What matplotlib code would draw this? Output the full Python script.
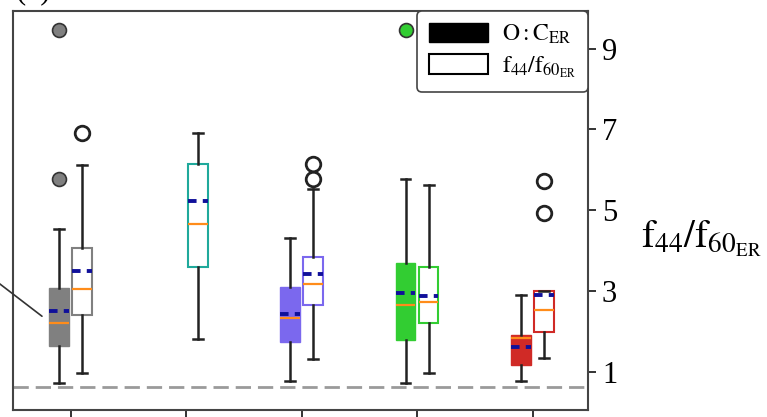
import matplotlib
matplotlib.use('Agg')
import matplotlib.pyplot as plt
from matplotlib.patches import Patch

plt.rcParams['font.family'] = ['Liberation Serif', 'DejaVu Serif']
plt.rcParams['mathtext.fontset'] = 'stix'

# ----------------------------------------------------------------------
# DATA (in f44/f60_ER axis units)
# ----------------------------------------------------------------------
groups = [1, 2, 3, 4, 5]
colors = ['#808080', '#1fa99b', '#7b68ee', '#32cd32', '#d02a26']

# O:C_ER filled boxes (no box for group 2)
oc_groups = [1, 3, 4, 5]
oc_q1 = [1.64, 1.74, 1.79, 1.17]
oc_med = [2.20, 2.33, 2.65, 1.83]
oc_q3 = [3.06, 3.09, 3.68, 1.91]
oc_mean = [2.50, 2.42, 2.94, 1.61]
oc_lo = [0.73, 0.78, 0.71, 0.76]
oc_hi = [4.54, 4.30, 5.77, 2.89]
oc_fliers = [[5.77, 9.45], [], [9.45], []]

# f44/f60_ER open boxes
ff_q1 = [2.40, 3.58, 2.65, 2.20, 1.98]
ff_med = [3.04, 4.66, 3.16, 2.72, 2.52]
ff_q3 = [4.07, 6.14, 3.85, 3.60, 2.99]
ff_mean = [3.48, 5.23, 3.41, 2.87, 2.89]
ff_lo = [0.97, 1.81, 1.32, 0.97, 1.34]
ff_hi = [6.11, 6.92, 5.52, 5.62, 2.99]
ff_fliers = [[6.92], [], [5.77, 6.14], [], [4.93, 5.72]]

ref_level = 0.63
yticks = [1, 3, 5, 7, 9]
# ----------------------------------------------------------------------

OFFSET = 0.1
WIDTH = 0.17


def make_stats(q1, med, q3, mean, lo, hi, fliers):
    return [dict(q1=a, med=b, q3=c, mean=d, whislo=e, whishi=f, fliers=g)
            for a, b, c, d, e, f, g in zip(q1, med, q3, mean, lo, hi, fliers)]


fig = plt.figure(figsize=(7.67, 4.17), dpi=100)
ax = fig.add_axes([13 / 767, 7 / 417, 575 / 767, 399 / 417])

common = dict(widths=WIDTH, showmeans=True, meanline=True, patch_artist=True,
              medianprops=dict(color='#ff8c1a', lw=1.6),
              meanprops=dict(color='#10109a', ls=(0, (2.2, 1.6)), lw=2.8),
              whiskerprops=dict(color='#222222', lw=1.8),
              capprops=dict(color='#222222', lw=1.8),
              zorder=3)

# filled O:C boxes
oc_pos = [g - OFFSET for g in oc_groups]
bp1 = ax.bxp(make_stats(oc_q1, oc_med, oc_q3, oc_mean, oc_lo, oc_hi, oc_fliers),
             positions=oc_pos, **common)
for i, g in enumerate(oc_groups):
    c = colors[g - 1]
    bp1['boxes'][i].set_facecolor(c)
    bp1['boxes'][i].set_edgecolor(c)
    bp1['fliers'][i].set(marker='o', markersize=10, markerfacecolor=c,
                         markeredgecolor='#333333', markeredgewidth=1.2)

# open f44/f60 boxes
ff_pos = [g + OFFSET for g in groups]
bp2 = ax.bxp(make_stats(ff_q1, ff_med, ff_q3, ff_mean, ff_lo, ff_hi, ff_fliers),
             positions=ff_pos, **common)
for i, g in enumerate(groups):
    c = colors[g - 1]
    bp2['boxes'][i].set_facecolor('white')
    bp2['boxes'][i].set_edgecolor(c)
    bp2['boxes'][i].set_linewidth(1.5)
    bp2['fliers'][i].set(marker='o', markersize=10.5, markerfacecolor='white',
                         markeredgecolor='#222222', markeredgewidth=2)

ax.axhline(ref_level, color='#9a9a9a', ls='--', lw=2, dashes=(5.5, 2.5), zorder=1)

ax.set_xlim(0.5, 5.48)
ax.set_ylim(0.05, 9.93)
ax.set_xticks(groups)
ax.set_xticklabels([])
ax.yaxis.tick_right()
ax.set_yticks(yticks)
ax.tick_params(axis='x', direction='out', length=9, width=1.4, color='#333333')
ax.tick_params(axis='y', direction='out', length=6, width=1.4, color='#333333',
               labelsize=22, pad=4)
for s in ax.spines.values():
    s.set_linewidth(1.5)
    s.set_color('#444444')

ax.yaxis.set_label_position('right')
ax.set_ylabel(r'$\mathrm{f_{44}/f_{60_{ER}}}$', fontsize=28, rotation=0,
              ha='left', va='center')
ax.yaxis.set_label_coords(1.093, 0.43)

handles = [Patch(facecolor='black', edgecolor='black'),
           Patch(facecolor='white', edgecolor='black', lw=1.5)]
leg = ax.legend(handles, [r'$\mathrm{O:C_{ER}}$', r'$\mathrm{f_{44}/f_{60_{ER}}}$'],
                loc='upper right', borderaxespad=0, fontsize=17,
                handlelength=2.5, handleheight=0.9, handletextpad=0.6,
                labelspacing=0.35, borderpad=0.5, fancybox=True, framealpha=1)
leg.get_frame().set_edgecolor('#444444')
leg.get_frame().set_linewidth(1.2)

# pointer line coming in from the cropped left side
ax.annotate('', xy=(0.77, 2.33), xytext=(-60, 46), textcoords='offset points',
            arrowprops=dict(arrowstyle='-', color='#333333', lw=1.2),
            annotation_clip=False)

fig.text(0.02, 1.002, '(b)', fontsize=22, va='baseline')

fig.savefig('out.png', dpi=100)
